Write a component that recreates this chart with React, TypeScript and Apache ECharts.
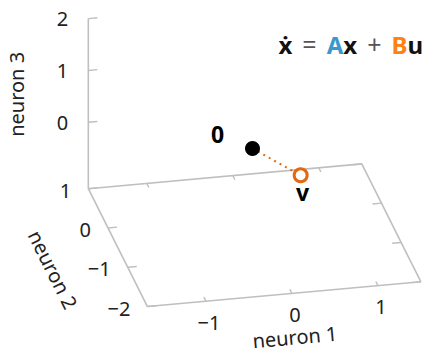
import React, { useEffect, useRef } from "react";
import * as echarts from "echarts";

// ---------- data ----------
const xRange = [-1.68, 1.5];
const yRange = [-2, 1];
const zRange = [-1.28, 2];
const xTicks = [-1, 0, 1];
const yTicks = [1, 0, -1, -2];
const zTicks = [0, 1, 2];
const axisNames = ["neuron 1", "neuron 2", "neuron 3"];
const pointNames = ["0", "v"];
const pointValues = [
  [0, 0, 0],
  [0.56, 0, -0.6],
];

// ---------- layout (oblique projection of the 3D box) ----------
const W = 426;
const H = 353;
const ORIGIN = [252.5, 148.5];
const EX = [86, -7.8];
const EY = [-19.7, -39.3];
const EZ = [0, -51.85];
const TICK = 0.105;
const FONT = '"Noto Sans", "DejaVu Sans", sans-serif';

function proj(p: number[]): number[] {
  return [
    ORIGIN[0] + p[0] * EX[0] + p[1] * EY[0] + p[2] * EZ[0],
    ORIGIN[1] + p[0] * EX[1] + p[1] * EY[1] + p[2] * EZ[1],
  ];
}

const fmt = (v: number) => (v < 0 ? "\u2212" + Math.abs(v) : String(v));

export default function App() {
  const ref = useRef<HTMLDivElement>(null);
  useEffect(() => {
    document.body.style.margin = "0";
    const chart = echarts.init(ref.current!, null, { renderer: "svg" });
    const [x0, x1] = xRange;
    const [y0, y1] = yRange;
    const [z0, z1] = zRange;

    const frame = [
      [x0, y1, z0, x1, y1, z0],
      [x0, y0, z0, x1, y0, z0],
      [x0, y0, z0, x0, y1, z0],
      [x1, y0, z0, x1, y1, z0],
      [x0, y1, z0, x0, y1, z1],
    ];
    const ticks: number[][] = [];
    xTicks.forEach((t) => {
      ticks.push([t, y0, z0, t, y0 + TICK, z0]);
      ticks.push([t, y1, z0, t, y1 - TICK, z0]);
    });
    yTicks.forEach((t) => {
      ticks.push([x0, t, z0, x0 + TICK, t, z0]);
      ticks.push([x1, t, z0, x1 - TICK, t, z0]);
    });
    zTicks.forEach((t) => {
      ticks.push([x0, y1, t, x0 + TICK, y1, t]);
    });

    // tick labels: [x, y, z, axis]
    const tickLabels: number[][] = [];
    xTicks.forEach((t) => tickLabels.push([t, y0, z0, 0]));
    yTicks.forEach((t) => tickLabels.push([x0, t, z0, 1]));
    zTicks.forEach((t) => tickLabels.push([x0, y1, t, 2]));
    const tickLabelStyle = [
      { dx: 3, dy: 21, align: "center" },
      { dx: -17, dy: 1.5, align: "right" },
      { dx: -20, dy: 0, align: "right" },
    ];

    const nameAnchors = [
      [0, y0, z0],
      [x0, -0.5, z0],
      [x0, y1, 0.5],
    ];
    const nameStyle = [
      { dx: 3, dy: 43.5, rot: 0.09 },
      { dx: -65, dy: 22, rot: -1.107 },
      { dx: -72, dy: -2, rot: Math.PI / 2 },
    ];

    const segRender = (color: string, width: number) => (params: any, api: any) => {
      const a = api.coord(proj([api.value(0), api.value(1), api.value(2)]));
      const b = api.coord(proj([api.value(3), api.value(4), api.value(5)]));
      return {
        type: "line",
        shape: { x1: a[0], y1: a[1], x2: b[0], y2: b[1] },
        style: { stroke: color, lineWidth: width },
      };
    };

    const projected = pointValues.map(proj);

    chart.setOption({
      animation: false,
      grid: { left: 0, right: 0, top: 0, bottom: 0, show: false },
      xAxis: { type: "value", min: 0, max: W, show: false },
      yAxis: { type: "value", min: 0, max: H, inverse: true, show: false },
      graphic: [
        {
          type: "text",
          x: 423,
          y: 44,
          style: {
            text: "{x|\u1E8B}{o|=}{a|A}{x|x}{o|+}{b|B}{x|u}",
            align: "right",
            verticalAlign: "middle",
            font: `24px ${FONT}`,
            fill: "#111",
            rich: {
              x: { fontSize: 24, fontWeight: "bold", fontFamily: FONT, fill: "#111" },
              o: { fontSize: 25, fontWeight: "normal", fontFamily: FONT, fill: "#555", padding: [0, 10] },
              a: { fontSize: 24, fontWeight: "bold", fontFamily: FONT, fill: "#3a98cf" },
              b: { fontSize: 24, fontWeight: "bold", fontFamily: FONT, fill: "#ff8114" },
            },
          },
        },
      ],
      series: [
        {
          type: "custom",
          coordinateSystem: "cartesian2d",
          data: frame,
          renderItem: segRender("#bfbfbf", 1.6),
          silent: true,
          z: 1,
        },
        {
          type: "custom",
          coordinateSystem: "cartesian2d",
          data: ticks,
          renderItem: segRender("#bfbfbf", 1.4),
          silent: true,
          z: 1,
        },
        {
          type: "custom",
          coordinateSystem: "cartesian2d",
          data: tickLabels,
          silent: true,
          z: 2,
          renderItem: (params: any, api: any) => {
            const ax = api.value(3);
            const v = [api.value(0), api.value(1), api.value(2)][ax];
            const p = api.coord(proj([api.value(0), api.value(1), api.value(2)]));
            const s = tickLabelStyle[ax];
            return {
              type: "text",
              x: p[0] + s.dx,
              y: p[1] + s.dy,
              style: {
                text: fmt(v),
                font: `20px ${FONT}`,
                fill: "#222",
                align: s.align,
                verticalAlign: "middle",
              },
            };
          },
        },
        {
          type: "custom",
          coordinateSystem: "cartesian2d",
          data: nameAnchors,
          silent: true,
          z: 2,
          renderItem: (params: any, api: any) => {
            const i = params.dataIndex;
            const p = api.coord(proj([api.value(0), api.value(1), api.value(2)]));
            const s = nameStyle[i];
            return {
              type: "text",
              x: p[0] + s.dx,
              y: p[1] + s.dy,
              rotation: s.rot,
              style: {
                text: axisNames[i],
                font: `20px ${FONT}`,
                fill: "#222",
                align: "center",
                verticalAlign: "middle",
              },
            };
          },
        },
        {
          type: "line",
          data: projected,
          symbol: "none",
          lineStyle: { color: "#e06a12", width: 2, type: [2, 4.2] },
          silent: true,
          z: 3,
        },
        {
          type: "scatter",
          z: 4,
          silent: true,
          data: [
            {
              value: projected[0],
              name: pointNames[0],
              symbolSize: 15,
              itemStyle: { color: "#000", opacity: 1 },
              label: { offset: [-35, -15] },
            },
            {
              value: projected[1],
              name: pointNames[1],
              symbolSize: 13,
              itemStyle: { color: "#fff", borderColor: "#e06a12", borderWidth: 3, opacity: 1 },
              label: { offset: [2, 17] },
            },
          ],
          label: {
            show: true,
            position: "inside",
            formatter: (p: any) => p.name,
            fontFamily: FONT,
            fontSize: 23,
            fontWeight: "bold",
            color: "#000",
          },
        },
      ],
    });
    return () => chart.dispose();
  }, []);
  return <div ref={ref} style={{ width: W, height: H }} />;
}
